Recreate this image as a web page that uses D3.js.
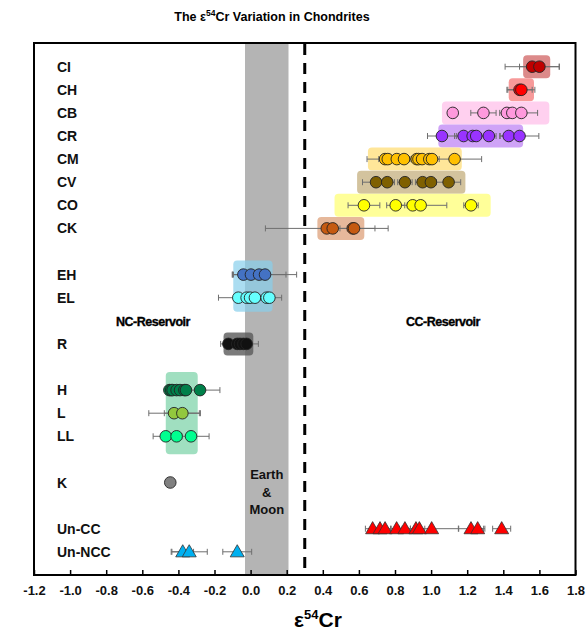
<!DOCTYPE html>
<html>
<head>
<meta charset="utf-8">
<script src="https://cdn.jsdelivr.net/npm/d3@7"></script>
<style>
  body { margin: 0; background: #fff; }
  svg { display: block; font-family: "Liberation Sans", Arial, sans-serif; }
</style>
</head>
<body>
<svg id="chart" width="587" height="634"></svg>
<script>
// ---------- DATA ----------
const categories = ["CI","CH","CB","CR","CM","CV","CO","CK","EH","EL","R","H","L","LL","K","Un-CC","Un-NCC"];
const rowIndex   = [0,1,2,3,4,5,6,7,9,10,12,14,15,16,18,20,21];
const xTicks = [-1.2,-1.0,-0.8,-0.6,-0.4,-0.2,0.0,0.2,0.4,0.6,0.8,1.0,1.2,1.4,1.6,1.8];

const CI_vals = [1.56, 1.60];            const CI_err = [0.15, 0.11];
const CH_vals = [1.49, 1.50];            const CH_err = [0.07, 0.075];
const CB_vals = [1.12, 1.29, 1.42, 1.45, 1.50]; const CB_err = [0.02, 0.07, 0.04, 0.05, 0.09];
const CR_vals = [1.06, 1.18, 1.23, 1.25, 1.32, 1.43, 1.49]; const CR_err = [0.08, 0.05, 0.04, 0.05, 0.04, 0.05, 0.107];
const CM_vals = [0.745, 0.76, 0.81, 0.85, 0.92, 0.93, 0.95, 0.99, 1.005, 1.13]; const CM_err = [0.10, 0.05, 0.04, 0.04, 0.04, 0.04, 0.04, 0.04, 0.04, 0.15];
const CV_vals = [0.695, 0.757, 0.855, 0.953, 0.999, 1.097]; const CV_err = [0.075, 0.04, 0.04, 0.04, 0.03, 0.067];
const CO_vals = [0.628, 0.804, 0.898, 0.942, 1.221]; const CO_err = [0.088, 0.05, 0.03, 0.145, 0.04];
const CK_vals = [0.422, 0.455, 0.566, 0.573]; const CK_err = [0.34, 0.04, 0.03, 0.116];
const EH_vals = [-0.04, 0.002, 0.047, 0.08]; const EH_err = [0.06, 0.03, 0.149, 0.175];
const EL_vals = [-0.068, -0.022, -0.003, 0.024, 0.089, 0.104]; const EL_err = [0.11, 0.03, 0.03, 0.03, 0.04, 0.068];
const R_vals  = [-0.123, -0.074, -0.059, -0.04, -0.022]; const R_err = [0.043, 0.03, 0.03, 0.03, 0.065];
const H_vals  = [-0.45, -0.44, -0.432, -0.41, -0.391, -0.367, -0.358, -0.28]; const H_err = [0.02, 0.02, 0.02, 0.02, 0.02, 0.02, 0.02, 0.11];
const L_vals  = [-0.424, -0.378]; const L_err = [0.14, 0.10];
const LL_vals = [-0.47, -0.41, -0.33]; const LL_err = [0.07, 0.03, 0.10];
const K_vals  = [-0.445]; const K_err = [0.02];
const UnCC_vals  = [0.676, 0.717, 0.745, 0.809, 0.855, 0.916, 0.935, 1.003, 1.221, 1.258, 1.391];
const UnCC_err   = [0.04, 0.03, 0.03, 0.03, 0.03, 0.03, 0.03, 0.15, 0.07, 0.04, 0.05];
const UnNCC_vals = [-0.376, -0.34, -0.074]; const UnNCC_err = [0.06, 0.10, 0.08];

const seriesVals = [CI_vals, CH_vals, CB_vals, CR_vals, CM_vals, CV_vals, CO_vals, CK_vals, EH_vals, EL_vals, R_vals, H_vals, L_vals, LL_vals, K_vals, UnCC_vals, UnNCC_vals];
const seriesErrs = [CI_err, CH_err, CB_err, CR_err, CM_err, CV_err, CO_err, CK_err, EH_err, EL_err, R_err, H_err, L_err, LL_err, K_err, UnCC_err, UnNCC_err];
const seriesColors = ["#c00000","#ff0000","#ff99dd","#9933ff","#ffc000","#7f6000","#ffff00","#c55a11","#4472c4","#66ffff","#111111","#00804a","#92c83e","#00ff90","#808080","#ff0000","#00b0f0"];
const seriesShape  = ["c","c","c","c","c","c","c","c","c","c","c","c","c","c","c","t","t"];

// group boxes: [x0, x1, firstRow, lastRow]
const boxExtents = [[1.51,1.66,0,0],[1.43,1.57,1,1],[1.06,1.655,2,2],[1.04,1.51,3,3],[0.65,1.17,4,4],[0.59,1.19,5,5],[0.465,1.33,6,6],[0.37,0.63,7,7],[-0.096,0.122,9,10],[-0.15,0.015,12,12],[-0.47,-0.293,14,16]];
const boxColors  = ["#dc8a8a","#f79a9a","#ffd0ef","#cfa3f7","#ffe699","#d3c39e","#ffff99","#e6b89b","rgba(135,206,235,0.7)","rgba(90,90,90,0.8)","#a0dfc0"];

const earthMoonBand = [-0.031, 0.21];
const reservoirDivide = 0.3;

// ---------- LAYOUT ----------
const svg = d3.select("#chart");
const x = d3.scaleLinear().domain([-1.2, 1.8]).range([34, 575.5]);
const y = d3.scaleLinear().domain([0, 21]).range([66.7, 551.8]);
const plotTop = 43, plotBottom = 575;

// title
const title = svg.append("text").attr("x", 272).attr("y", 21).attr("text-anchor", "middle")
  .attr("font-size", 12.5).attr("font-weight", "bold");
title.append("tspan").text("The ε");
title.append("tspan").attr("font-size", 8.5).attr("dy", -5).text("54");
title.append("tspan").attr("dy", 5).text("Cr Variation in Chondrites");

// gray band
svg.append("rect").attr("x", x(earthMoonBand[0])).attr("y", plotTop)
  .attr("width", x(earthMoonBand[1]) - x(earthMoonBand[0])).attr("height", plotBottom - plotTop)
  .attr("fill", "#b4b4b4");

// boxes
boxExtents.forEach((b, i) => {
  const pad = b[3] > b[2] ? (b[2] === 14 ? 18 : 14) : 11.5;
  svg.append("rect")
    .attr("x", x(b[0])).attr("width", x(b[1]) - x(b[0]))
    .attr("y", y(b[2]) - pad).attr("height", y(b[3]) - y(b[2]) + 2 * pad)
    .attr("rx", 4).attr("fill", boxColors[i]);
});

// dashed divider
svg.append("line").attr("x1", x(reservoirDivide)).attr("x2", x(reservoirDivide))
  .attr("y1", plotTop + 1).attr("y2", plotBottom)
  .attr("stroke", "#000").attr("stroke-width", 3).attr("stroke-dasharray", "11,8");

// Earth & Moon
["Earth", "&", "Moon"].forEach((t, i) => {
  svg.append("text").attr("x", (x(earthMoonBand[0]) + x(earthMoonBand[1])) / 2)
    .attr("y", 479 + i * 17.5).attr("text-anchor", "middle")
    .attr("font-size", 13).attr("font-weight", "bold").attr("fill", "#111").text(t);
});

// reservoir labels
[["NC-Reservoir", 153], ["CC-Reservoir", 443]].forEach(([t, cx]) => {
  svg.append("text").attr("x", cx).attr("y", 326).attr("text-anchor", "middle")
    .attr("font-size", 12.5).attr("font-weight", "bold").attr("letter-spacing", -0.5)
    .attr("stroke", "#000").attr("stroke-width", 0.35).text(t);
});

// error bars + markers
const gE = svg.append("g"), gM = svg.append("g");
seriesVals.forEach((vals, s) => {
  const yy = y(rowIndex[s]);
  vals.forEach((v, k) => {
    const e = seriesErrs[s][k];
    const x0 = x(v - e), x1 = x(v + e);
    gE.append("line").attr("x1", x0).attr("x2", x1).attr("y1", yy).attr("y2", yy)
      .attr("stroke", "#6e6e6e").attr("stroke-width", 1);
    [x0, x1].forEach(xc => gE.append("line").attr("x1", xc).attr("x2", xc)
      .attr("y1", yy - 3).attr("y2", yy + 3).attr("stroke", "#6e6e6e").attr("stroke-width", 1));
  });
  vals.forEach(v => {
    if (seriesShape[s] === "c") {
      gM.append("circle").attr("cx", x(v)).attr("cy", yy).attr("r", 5.8)
        .attr("fill", seriesColors[s]).attr("stroke", "#222").attr("stroke-width", 0.9);
    } else {
      gM.append("path").attr("transform", `translate(${x(v)},${yy + 1})`)
        .attr("d", d3.symbol(d3.symbolTriangle, 85)())
        .attr("fill", seriesColors[s]).attr("stroke", "#333").attr("stroke-width", 0.8);
    }
  });
});

// row labels
categories.forEach((c, i) => {
  svg.append("text").attr("x", 57).attr("y", y(rowIndex[i]) + 5)
    .attr("font-size", 14).attr("font-weight", "bold").attr("fill", "#111").text(c);
});

// frame
svg.append("rect").attr("x", 34).attr("y", plotTop).attr("width", 575.5 - 34).attr("height", plotBottom - plotTop)
  .attr("fill", "none").attr("stroke", "#000").attr("stroke-width", 2);

// x axis
const fmt = d3.format(".1f");
const axis = d3.axisBottom(x).tickValues(xTicks).tickSizeInner(-5).tickSizeOuter(0)
  .tickFormat(d => fmt(d).replace("\u2212", "-"));
const gA = svg.append("g").attr("transform", `translate(0,${plotBottom})`).call(axis);
gA.select(".domain").remove();
gA.selectAll(".tick line").attr("stroke", "#000").attr("stroke-width", 1.5);
gA.selectAll(".tick text").attr("y", 11).attr("font-size", 13).attr("font-weight", "bold")
  .attr("font-family", "Liberation Sans, Arial, sans-serif").attr("fill", "#111");

// axis title
const at = svg.append("text").attr("x", 318).attr("y", 627).attr("text-anchor", "middle")
  .attr("font-size", 21).attr("font-weight", "bold");
at.append("tspan").text("ε");
at.append("tspan").attr("font-size", 13).attr("dy", -8).text("54");
at.append("tspan").attr("dy", 8).text("Cr");
</script>
</body>
</html>
